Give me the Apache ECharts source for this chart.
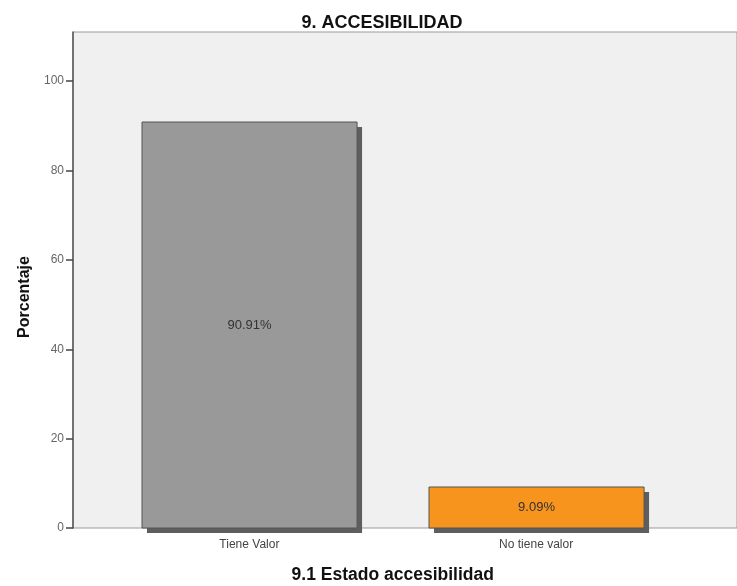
<!DOCTYPE html>
<html><head><meta charset="utf-8">
<script src="https://cdn.jsdelivr.net/npm/echarts@6/dist/echarts.min.js"></script>
<style>html,body{margin:0;padding:0;background:#fff}#c{width:737px;height:586px}</style>
</head><body><div id="c"></div>
<script>
const categories = ['Tiene Valor', 'No tiene valor'];
const values = [90.91, 9.09];
const labels = ['90.91%', '9.09%'];
const barColors = ['#999999', '#F7941D'];
const yTicks = [0, 20, 40, 60, 80, 100];

const chart = echarts.init(document.getElementById('c'));
const font = 'Liberation Sans, Arial, sans-serif';
chart.setOption({
  animation: false,
  title: { text: '9. ACCESIBILIDAD', left: 377, top: 9, textAlign: 'center',
    textStyle: { fontFamily: font, fontSize: 18, fontWeight: 'bold', color: '#111' } },
  graphic: [{ type: 'text', x: 25, y: 297, rotation: Math.PI/2,
    style: { text: 'Porcentaje', font: 'bold 16px Liberation Sans, Arial', fill: '#111', textAlign: 'center', textVerticalAlign: 'middle' } }],
  grid: [
    { left: 73, right: 0, top: 32, bottom: 58, show: true, backgroundColor: '#F0F0F0', borderColor: '#9a9a9a', borderWidth: 1, outerBoundsMode: 'none', containLabel: false },
    { left: 106, right: 57.5, top: 32, bottom: 58, outerBoundsMode: 'none', containLabel: false }
  ],
  xAxis: [
    { gridIndex: 0, type: 'value', min: 0, max: 1, show: false },
    { gridIndex: 1, type: 'category', data: categories, boundaryGap: true,
      axisLine: { show: false }, axisTick: { show: false },
      axisLabel: { fontFamily: font, fontSize: 12, color: '#444', margin: 11 },
      name: '9.1 Estado accesibilidad', nameLocation: 'middle', nameGap: 38,
      nameTextStyle: { fontFamily: font, fontSize: 17.5, fontWeight: 'bold', color: '#111' } }
  ],
  yAxis: [
    { gridIndex: 0, type: 'value', min: 0, max: 111, interval: 20,
      splitLine: { show: false },
      axisLine: { show: true, lineStyle: { color: '#555', width: 1.5 } },
      axisTick: { show: true, length: 7, lineStyle: { color: '#444', width: 1.5 }, customValues: yTicks },
      axisLabel: { fontFamily: font, fontSize: 12, color: '#666', margin: 9, customValues: yTicks } },
    { gridIndex: 1, type: 'value', min: 0, max: 111, show: false }
  ],
  series: [{
    type: 'custom', xAxisIndex: 1, yAxisIndex: 1, clip: false,
    data: values.map((v, i) => [i, v]),
    renderItem: function (params, api) {
      const i = api.value(0);
      const top = api.coord([i, api.value(1)]);
      const base = api.coord([i, 0]);
      const w = api.size([1, 0])[0] * 0.75;
      const x = Math.round(top[0] - w / 2);
      const y = Math.round(top[1]);
      const h = Math.round(base[1]) - y;
      return { type: 'group', children: [
        { type: 'rect', shape: { x: x + 5, y: y + 5, width: w, height: h },
          style: { fill: '#5e5e5e' } },
        { type: 'rect', shape: { x: x, y: y, width: w, height: h },
          style: { fill: barColors[params.dataIndex], stroke: '#555', lineWidth: 1 } },
        { type: 'text', x: x + w / 2, y: y + h / 2,
          style: { text: labels[params.dataIndex], fill: '#333', font: '13px Liberation Sans, Arial', textAlign: 'center', textVerticalAlign: 'middle' } }
      ] };
    }
  }]
});
</script></body></html>
